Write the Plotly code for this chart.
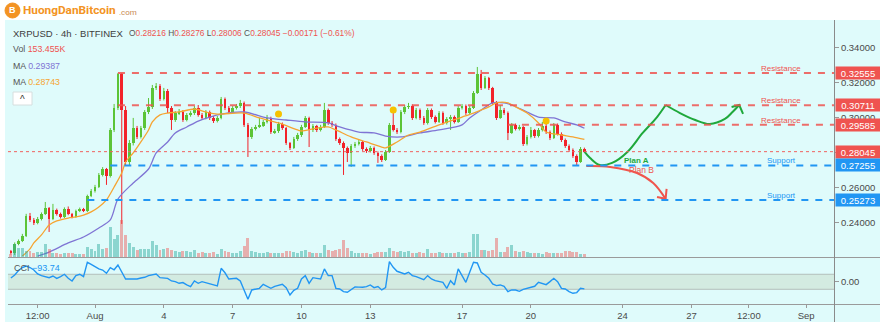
import pandas as pd
import plotly.graph_objects as go

# ---------------- XRPUSD 4h candles, Bitfinex (from 28 Jul 2020 08:00) ----------------
start = "2020-07-28 08:00"

opens = [
    .2235, .2223, .2275, .2292, .2321, .2436, .2413, .2396, .2418, .2447,
    .2481, .2418, .2470, .2447, .2430, .2476, .2447, .2430, .2464, .2476,
    .2464, .2551, .2579, .2602, .2671, .2705, .2665, .2929, .3055, .3250,
    .3043, .2745, .2854, .2940, .2889, .2940, .3032, .3061, .3170, .3181,
    .3107, .3152, .3055, .2986, .3026, .3032, .2986, .3015, .3026, .3055,
    .3015, .2998, .3032, .2998, .2980, .2998, .3107, .3055, .3032, .3055,
    .3066, .3084, .2958, .2889, .2935, .2946, .2952, .2975, .2998, .2917,
    .2923, .2963, .2940, .2854, .2826, .2877, .2900, .2946, .2998, .2929,
    .2952, .2929, .2946, .3043, .2969, .2958, .2877, .2854, .2826, .2797,
    .2837, .2848, .2860, .2820, .2809, .2826, .2797, .2780, .2757, .2803,
    .2958, .2929, .2917, .3032, .3061, .3066, .2998, .3043, .2998, .2969,
    .3043, .3003, .2975, .3026, .2969, .2992, .3003, .2975, .3055, .3066,
    .3026, .3055, .3141, .3250, .3170, .3227, .3170, .3084, .2998, .3043,
    .3026, .2912, .2958, .2935, .2946, .2848, .2889, .2929, .2894, .2929,
    .2952, .2917, .2883, .2958, .2906, .2871, .2837, .2814, .2780, .2745,
    .28216,
]
highs = [
    .2241, .2284, .2301, .2333, .2448, .2453, .2424, .2430, .2456, .2516,
    .2487, .2505, .2478, .2455, .2485, .2490, .2453, .2472, .2484, .2482,
    .2558, .2590, .2614, .2682, .2716, .2711, .2940, .3078, .32555, .32555,
    .3066, .2871, .2998, .2952, .2952, .3043, .3112, .3187, .3198, .3192,
    .3170, .3164, .3066, .3037, .3049, .3043, .3026, .3037, .3066, .3072,
    .3026, .3043, .3040, .3009, .3009, .3118, .3115, .3066, .3066, .3078,
    .3101, .3092, .2969, .2946, .2958, .2998, .2986, .3015, .3005, .2935,
    .2975, .2972, .2946, .2860, .2889, .2912, .2958, .3009, .3005, .2963,
    .2958, .2958, .3084, .3052, .2980, .2966, .2886, .2863, .2834, .2848,
    .2860, .2871, .2866, .2829, .2837, .2834, .2806, .2789, .2814, .2969,
    .3026, .2940, .3043, .3072, .3084, .3075, .3055, .3052, .3009, .3055,
    .3052, .3012, .3037, .3035, .3003, .3015, .3012, .3066, .3078, .3075,
    .3066, .3152, .3290, .3273, .3238, .3233, .3176, .3095, .3072, .3055,
    .3035, .2969, .2966, .2958, .2952, .2900, .2946, .2935, .2940, .2975,
    .2963, .2926, .2969, .2966, .2915, .2880, .2846, .2823, .2789, .2831,
    .28276,
]
lows = [
    .2215, .2212, .2268, .2286, .2315, .2401, .2384, .2388, .2410, .2441,
    .2344, .2412, .2438, .2421, .2424, .2440, .2422, .2425, .2458, .2458,
    .2458, .2544, .2570, .2596, .2662, .2614, .2656, .2917, .3043, .2390,
    .2728, .2728, .2840, .2877, .2880, .2929, .3020, .3049, .3158, .3095,
    .3098, .3026, .2929, .2975, .3015, .2975, .2978, .3005, .3015, .3005,
    .2986, .2990, .2986, .2969, .2972, .2990, .3043, .3020, .3026, .3046,
    .3055, .2946, .2774, .2877, .2926, .2940, .2946, .2966, .2906, .2906,
    .2912, .2929, .2843, .2814, .2820, .2866, .2889, .2940, .2831, .2917,
    .2917, .2920, .2940, .2958, .2946, .2866, .2843, .2671, .2745, .2717,
    .2826, .2840, .2809, .2797, .2800, .2786, .2740, .2745, .2751, .2797,
    .2920, .2906, .2909, .3020, .3049, .2986, .2990, .2986, .2958, .2960,
    .2992, .2966, .2969, .2958, .2960, .2929, .2966, .2969, .3046, .3015,
    .3020, .3049, .3135, .3158, .3164, .3158, .3072, .2986, .2992, .3015,
    .2871, .2906, .2926, .2926, .2837, .2840, .2880, .2883, .2886, .2920,
    .2906, .2871, .2877, .2897, .2860, .2826, .2803, .2769, .2728, .2740,
    .28006,
]
closes = [
    .2223, .2275, .2292, .2321, .2436, .2413, .2396, .2418, .2447, .2481,
    .2418, .2470, .2447, .2430, .2476, .2447, .2430, .2464, .2476, .2464,
    .2551, .2579, .2602, .2671, .2705, .2665, .2929, .3055, .3250, .3043,
    .2745, .2854, .2940, .2889, .2940, .3032, .3061, .3170, .3181, .3107,
    .3152, .3055, .2986, .3026, .3032, .2986, .3015, .3026, .3055, .3015,
    .2998, .3032, .2998, .2980, .2998, .3107, .3055, .3032, .3055, .3066,
    .3084, .2958, .2889, .2935, .2946, .2952, .2975, .2998, .2917, .2923,
    .2963, .2940, .2854, .2826, .2877, .2900, .2946, .2998, .2929, .2952,
    .2929, .2946, .3043, .2969, .2958, .2877, .2854, .2826, .2797, .2837,
    .2848, .2860, .2820, .2809, .2826, .2797, .2780, .2757, .2803, .2958,
    .2929, .2917, .3032, .3061, .3066, .2998, .3043, .2998, .2969, .3043,
    .3003, .2975, .3026, .2969, .2992, .3003, .2975, .3055, .3066, .3026,
    .3055, .3141, .3250, .3170, .3227, .3170, .3084, .2998, .3043, .3026,
    .2912, .2958, .2935, .2946, .2848, .2889, .2929, .2894, .2929, .2952,
    .2917, .2883, .2958, .2906, .2871, .2837, .2814, .2780, .2745, .28216,
    .28045,
]
# volume in thousands of XRP
volume_k = [
    135, 585, 405, 405, 270, 270, 180, 225, 225, 585,
    360, 180, 180, 135, 180, 180, 180, 135, 135, 135,
    450, 360, 270, 585, 360, 405, 1350, 810, 990, 1665,
    990, 630, 450, 315, 360, 360, 360, 720, 540, 315,
    360, 405, 315, 270, 225, 270, 270, 225, 315, 180,
    225, 180, 180, 225, 135, 360, 270, 225, 180, 180,
    270, 495, 855, 270, 225, 180, 180, 225, 180, 180,
    180, 180, 270, 270, 225, 180, 270, 315, 225, 180,
    180, 180, 540, 315, 270, 315, 360, 765, 405, 270,
    180, 180, 180, 180, 135, 180, 225, 225, 225, 405,
    270, 225, 270, 225, 270, 180, 180, 225, 180, 360,
    180, 180, 225, 180, 180, 180, 180, 225, 180, 180,
    225, 1035, 1035, 315, 315, 270, 315, 855, 225, 225,
    450, 540, 270, 225, 270, 225, 180, 180, 180, 135,
    225, 180, 180, 180, 180, 270, 270, 225, 225, 135,
    153.455,
]
cci = [
    50, 91, 150, 190, 210, 190, 157, 104, 82, 68,
    55, 77, 46, 68, 100, 46, 11, 82, 100, 68,
    260, 233, 200, 171, 157, 113, 188, 160, 224, 130,
    37, 37, 37, 37, 50, 60, 82, 90, 104, 55,
    50, 46, 11, 2, -20, -11, -42, -64, 11, -20,
    2, -11, -33, -42, -56, 180, 120, 37, 37, 46,
    11, -109, -233, -109, -100, -87, -33, -64, -87, -60,
    -42, -33, -78, -176, -115, -87, 37, 82, -20, 55,
    46, 37, 171, 82, 82, -87, -96, -131, -140, -109,
    -69, -71, -73, -64, -42, -78, -64, -109, -78, 269,
    193, 140, 127, 104, 127, 82, 69, 51, 29, 82,
    37, 15, 5, -7, -87, 15, -42, 171, 82, -7,
    127, 260, 251, 127, 91, 46, -29, -51, -42, -60,
    -131, -109, -109, -127, -100, -87, -75, -60, -7, -20,
    -38, 2, 46, 2, -87, -96, -131, -153, -144, -87,
    -93.74,
]

# moving averages, read at candle indices
ma_fast_idx = [3, 5, 6, 8, 10, 12, 15, 17, 19, 21, 23, 25, 27, 29, 30, 32, 34, 36, 37,
               39, 41, 44, 48, 51, 54, 61, 65, 70, 75, 76, 80, 83, 85, 89, 93, 97, 98,
               101, 104, 107, 112, 118, 121, 125, 127, 130, 132, 135, 138, 140, 144, 147, 150]
ma_fast = [.2206, .2247, .2281, .2327, .2384, .2407, .2424, .2430, .2441, .2459, .2487,
           .2528, .2602, .2682, .2745, .2797, .2860, .2929, .2975, .3015, .3026, .3032,
           .3049, .3032, .3020, .3026, .2998, .2969, .2929, .2923, .2940, .2946, .2929,
           .2889, .2860, .2831, .2826, .2860, .2900, .2917, .2958, .3003, .3026, .3061,
           .3084, .3084, .3061, .3026, .2969, .2917, .2900, .2889, .28743]
ma_slow_idx = [7, 10, 15, 19, 23, 26, 28, 32, 36, 38, 41, 43, 46, 49, 52, 55, 61, 67, 72,
               77, 83, 86, 91, 95, 98, 102, 107, 112, 118, 120, 123, 126, 129, 131, 135,
               138, 142, 145, 148, 150]
ma_slow = [.2206, .2229, .2281, .2315, .2367, .2413, .2533, .2625, .2705, .2797, .2860,
           .2912, .2946, .2980, .3003, .3020, .3032, .2998, .2986, .2975, .2969, .2946,
           .2917, .2912, .2894, .2889, .2912, .2929, .2958, .2998, .3043, .3084, .3084,
           .3072, .3032, .3003, .2998, .2975, .2958, .29387]

signal_idx = [70, 100, 140]
signal_price = [0.3020, 0.3043, 0.2980]

# horizontal levels and the candle each one is drawn from
resistance = [0.32555, 0.30711, 0.29585]
resistance_from = [28, 28, 130]
support = [0.27255, 0.25273]
support_from = [26, 20]
last_price = 0.28045

# scenarios: hours after 1 Aug 2020 00:00, price
plan_a1_h = [512, 518, 528, 541, 557, 573, 588, 597]
plan_a1_p = [.28045, .2768, .2728, .2740, .2803, .2912, .3003, .3072]
plan_a2_h = [597, 612, 628, 643, 659, 667, 674]
plan_a2_p = [.3072, .3026, .2986, .2963, .2992, .3032, .3072]
plan_a_head_h = [666, 674, 678]
plan_a_head_p = [.3061, .3072, .3021]
plan_b_h = [514, 539, 567, 584, 597]
plan_b_p = [.2722, .2717, .2682, .2625, .2534]
plan_b_head_h = [588, 597, 598]
plan_b_head_p = [.2545, .2534, .2591]

# axis tick labels
tick_times = ["2020-07-29 12:00", "2020-08-01", "2020-08-04", "2020-08-07", "2020-08-10",
              "2020-08-13", "2020-08-17", "2020-08-20", "2020-08-24", "2020-08-27",
              "2020-08-29 12:00", "2020-09-01"]
tick_text = ["12:00", "Aug", "4", "7", "10", "13", "17", "20", "24", "27", "12:00", "Sep"]
price_ticks = [0.24, 0.26, 0.28, 0.30, 0.32, 0.34]

# ---------------- styling ----------------
BG = "#dffbfb"
UP = "#5cc437"
DOWN = "#f2232b"
RED = "#ef5350"
BLUE = "#2196f3"
ORANGE = "#f6a431"
PURPLE = "#7f74d4"
FONT = "Liberation Sans"

W, H = 880, 326
ML, MR, MT, MB = 8, 46, 22, 22
PW, PH = W - ML - MR, H - MT - MB


def px(x):
    return (x - ML) / PW


def py(y):
    return (H - MB - y) / PH


times = pd.date_range(start, periods=len(closes), freq="4h")
aug1 = pd.Timestamp("2020-08-01")
day_px = 22.94
x_left = aug1 - pd.Timedelta(days=87 / day_px)
x_right = aug1 + pd.Timedelta(days=739 / day_px)


def hours(hs):
    return [aug1 + pd.Timedelta(hours=h) for h in hs]


is_up = [c >= o for o, c in zip(opens, closes)]
four_h_ms = 4 * 3600 * 1000

fig = go.Figure()

# volume
fig.add_trace(go.Bar(
    x=times, y=volume_k, yaxis="y2", width=four_h_ms * 0.78,
    marker=dict(color=["rgba(38,166,154,0.45)" if u else "rgba(239,83,80,0.45)" for u in is_up],
                line=dict(width=0)),
    hoverinfo="skip"))

# wicks
for flag, col in ((True, UP), (False, DOWN)):
    wx, wy = [], []
    for t, hi, lo, u in zip(times, highs, lows, is_up):
        if u == flag:
            wx += [t, t, None]
            wy += [lo, hi, None]
    fig.add_trace(go.Scatter(x=wx, y=wy, mode="lines", line=dict(color=col, width=1),
                             hoverinfo="skip"))

# bodies
fig.add_trace(go.Bar(
    x=times,
    base=[min(o, c) for o, c in zip(opens, closes)],
    y=[max(abs(c - o), 0.0004) for o, c in zip(opens, closes)],
    width=four_h_ms * 0.68,
    marker=dict(color=[UP if u else DOWN for u in is_up], line=dict(width=0)),
    hoverinfo="skip"))

# moving averages
fig.add_trace(go.Scatter(x=[times[i] for i in ma_slow_idx], y=ma_slow, mode="lines",
                         line=dict(color=PURPLE, width=1.3, shape="spline", smoothing=0.8)))
fig.add_trace(go.Scatter(x=[times[i] for i in ma_fast_idx], y=ma_fast, mode="lines",
                         line=dict(color=ORANGE, width=1.3, shape="spline", smoothing=0.8)))

# signal dots
fig.add_trace(go.Scatter(x=[times[i] for i in signal_idx], y=signal_price, mode="markers",
                         marker=dict(color="#f6c200", size=7)))

# scenarios
GREEN_PLAN = "#1fa83b"
RED_PLAN = "#f0554d"
for hs, ps, col, shp in ((plan_a1_h, plan_a1_p, GREEN_PLAN, "spline"),
                         (plan_a2_h, plan_a2_p, GREEN_PLAN, "spline"),
                         (plan_a_head_h, plan_a_head_p, GREEN_PLAN, "linear"),
                         (plan_b_h, plan_b_p, RED_PLAN, "spline"),
                         (plan_b_head_h, plan_b_head_p, RED_PLAN, "linear")):
    fig.add_trace(go.Scatter(x=hours(hs), y=ps, mode="lines",
                             line=dict(color=col, width=2, shape=shp)))

# CCI
fig.add_trace(go.Scatter(x=times, y=cci, yaxis="y3", mode="lines",
                         line=dict(color=BLUE, width=1.4)))

shapes = [
    dict(type="rect", xref="paper", yref="paper", x0=px(5), x1=px(880), y0=py(322), y1=py(20),
         fillcolor=BG, line=dict(width=0), layer="below"),
    dict(type="rect", xref="paper", yref="y3", x0=0, x1=1, y0=-100, y1=100,
         fillcolor="#d3ebe1", line=dict(width=0), layer="below"),
    dict(type="line", xref="paper", yref="y3", x0=0, x1=1, y0=100, y1=100,
         line=dict(color="#b3bfbb", width=1), layer="below"),
    dict(type="line", xref="paper", yref="y3", x0=0, x1=1, y0=-100, y1=-100,
         line=dict(color="#b3bfbb", width=1), layer="below"),
    dict(type="line", xref="paper", yref="paper", x0=px(8), x1=px(880), y0=py(257.5), y1=py(257.5),
         line=dict(color="#9a9a9a", width=1)),
    dict(type="line", xref="paper", yref="paper", x0=px(8), x1=px(880), y0=py(304.5), y1=py(304.5),
         line=dict(color="#9a9a9a", width=1)),
    dict(type="line", xref="paper", yref="paper", x0=px(834.5), x1=px(834.5), y0=py(322), y1=py(20),
         line=dict(color="#8a8a8a", width=1)),
    dict(type="line", xref="paper", yref="y", x0=0, x1=1, y0=last_price, y1=last_price,
         line=dict(color="#f0625e", width=1, dash="dot")),
]
for lvl, k in zip(resistance, resistance_from):
    shapes.append(dict(type="line", xref="x", yref="y", x0=times[k], x1=x_right, y0=lvl, y1=lvl,
                       line=dict(color="rgba(239,83,80,0.85)", width=2, dash="7px,7px")))
for lvl, k in zip(support, support_from):
    shapes.append(dict(type="line", xref="x", yref="y", x0=times[k], x1=x_right, y0=lvl, y1=lvl,
                       line=dict(color=BLUE, width=2, dash="7px,7px")))
# collapse button
shapes.append(dict(type="rect", xref="paper", yref="paper", x0=px(13), x1=px(32), y0=py(105), y1=py(92),
                   fillcolor="white", line=dict(color="#d6dede", width=1)))

ann = []


def text_at(x, y, s, size=10, color="#444", anchor="left", fam=FONT):
    ann.append(dict(xref="paper", yref="paper", x=px(x), y=py(y), text=s, showarrow=False,
                    xanchor=anchor, yanchor="middle", font=dict(family=fam, size=size, color=color)))


# logo
shapes.append(dict(type="circle", xref="paper", yref="paper", x0=px(5), x1=px(20), y0=py(18), y1=py(3),
                   fillcolor="#f39323", line=dict(color="#f39323", width=1)))
text_at(12.5, 10.5, "<b>B</b>", size=9, color="white", anchor="center")
text_at(20.5, 10, "<b>HuongDanBitcoin</b>", size=11.8, color="#f39323", fam="Roboto")
text_at(117, 12.5, ".com", size=8, color="#c98a52", fam="Roboto")

# legend block
text_at(11, 33, "XRPUSD · 4h · BITFINEX", size=9.5, color="#3d3d3d")
ohlc = ("<span style='color:#555'>O</span>0.28216 <span style='color:#555'>H</span>0.28276 "
        "<span style='color:#555'>L</span>0.28006 <span style='color:#555'>C</span>0.28045 "
        "−0.00171 (−0.61%)")
text_at(127, 33, ohlc, size=8.4, color=RED)
text_at(11, 49, "Vol <span style='color:%s'>153.455K</span>" % RED, size=8.8, color="#555")
text_at(11, 66, "MA <span style='color:%s'>0.29387</span>" % PURPLE, size=8.8, color="#555")
text_at(11, 82, "MA <span style='color:%s'>0.28743</span>" % ORANGE, size=8.8, color="#555")
text_at(22.5, 99, "^", size=10, color="#333", anchor="center")
text_at(12, 268, "CCI <span style='color:%s'>−93.74</span>" % BLUE, size=9, color="#555")

# level captions
cap_x = aug1 + pd.Timedelta(hours=718)
for lvl in resistance:
    ann.append(dict(x=cap_x, y=lvl, xref="x", yref="y", text="Resistance", showarrow=False,
                    yanchor="bottom", yshift=-2, font=dict(family=FONT, size=8, color=RED)))
for lvl in support:
    ann.append(dict(x=cap_x, y=lvl, xref="x", yref="y", text="Support", showarrow=False,
                    yanchor="bottom", yshift=-2, font=dict(family=FONT, size=8, color=BLUE)))

ann.append(dict(x=aug1 + pd.Timedelta(hours=566), y=0.2752, xref="x", yref="y", text="<b>Plan A</b>",
                showarrow=False, font=dict(family=FONT, size=8, color=GREEN_PLAN)))
ann.append(dict(x=aug1 + pd.Timedelta(hours=572), y=0.2699, xref="x", yref="y", text="Plan B",
                showarrow=False, font=dict(family=FONT, size=8.5, color=RED_PLAN)))

# price-scale badges
for lvl, col in [(resistance[0], RED), (resistance[1], RED), (resistance[2], RED),
                 (last_price, RED), (support[0], BLUE), (support[1], BLUE)]:
    ann.append(dict(xref="paper", yref="y", x=px(835), y=lvl, text="%.5f" % lvl, showarrow=False,
                    xanchor="left", yanchor="middle", width=44, height=12, align="center",
                    bgcolor=col, borderpad=0, font=dict(family=FONT, size=9.5, color="white")))

fig.update_layout(
    width=W, height=H, margin=dict(l=ML, r=MR, t=MT, b=MB, autoexpand=False),
    paper_bgcolor="white", plot_bgcolor=BG, showlegend=False,
    barmode="overlay", bargap=0,
    font=dict(family=FONT, size=9.5, color="#4a4a4a"),
    xaxis=dict(type="date", range=[x_left, x_right], anchor="y3", automargin=False,
               tickvals=tick_times, ticktext=tick_text, showgrid=False, zeroline=False,
               ticks="outside", ticklen=3, tickcolor="#9a9a9a",
               tickfont=dict(size=9.5, color="#4a4a4a"), showline=False),
    yaxis=dict(domain=[py(257), 1], range=[0.22005, 0.35479], side="right", anchor="x",
               automargin=False,
               tickvals=price_ticks, ticktext=["%.5f" % v for v in price_ticks],
               ticks="outside", ticklen=4, tickcolor="#9a9a9a", showgrid=False, zeroline=False,
               tickfont=dict(size=9.5, color="#4a4a4a")),
    yaxis2=dict(domain=[py(257), 1], overlaying="y", range=[0, 10575], visible=False),
    yaxis3=dict(domain=[0, py(258)], range=[-296, 317], side="right", anchor="x",
                automargin=False,
                tickvals=[0], ticktext=["0.00"], ticks="outside", ticklen=4, tickcolor="#9a9a9a",
                showgrid=False, zeroline=False, tickfont=dict(size=9.5, color="#4a4a4a")),
    shapes=shapes, annotations=ann,
)

fig.write_html("out.html")
